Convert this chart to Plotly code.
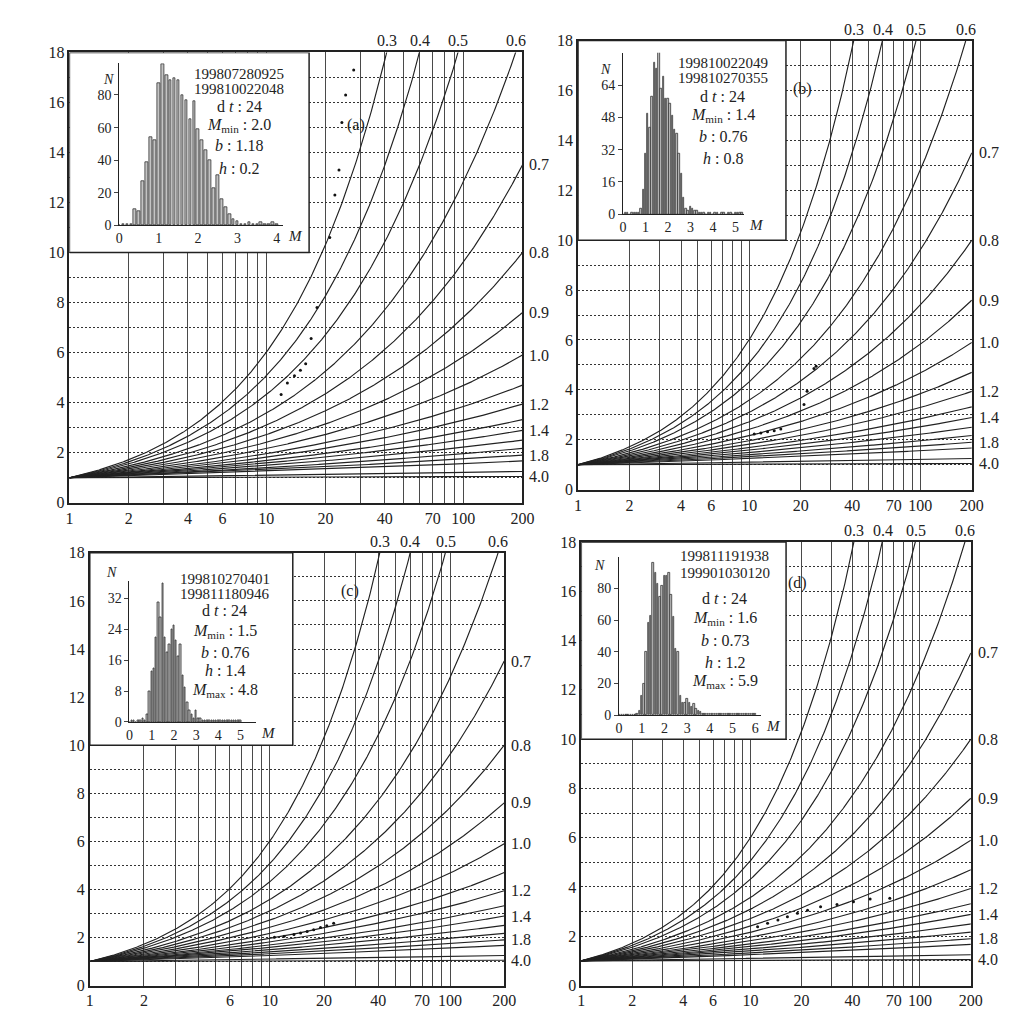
import numpy as np
import plotly.graph_objects as go

W, H = 1029, 1017

# ---------------- data ----------------
curve_labels = [0.3, 0.4, 0.5, 0.6, 0.7, 0.8, 0.9, 1.0, 1.1, 1.2, 1.3, 1.4, 1.5, 1.6, 1.8, 2.0, 3.0, 4.0]
curve_end_y = [62.0, 42.0, 29.0, 18.8, 13.5, 10.0, 7.6, 5.9, 4.7, 3.94, 3.32, 2.89, 2.5, 2.17, 1.9, 1.67, 1.25, 1.05]
top_labels = ["0.3", "0.4", "0.5", "0.6"]
right_labels = ["0.7", "0.8", "0.9", "1.0", "1.2", "1.4", "1.8", "4.0"]

x_grid = [1, 2, 3, 4, 5, 6, 7, 8, 9, 10, 20, 30, 40, 50, 60, 70, 80, 90, 100, 200]
x_ticks_std = [1, 2, 4, 6, 10, 20, 40, 70, 100, 200]
x_ticks_c = [1, 2, 6, 10, 20, 40, 70, 100, 200]
y_ticks = [0, 2, 4, 6, 8, 10, 12, 14, 16, 18]
y_grid = list(range(19))

hist_a = [0, 1, 1, 1, 10, 8.5, 27, 39, 54, 52, 87, 99, 92, 89, 90, 89, 80, 77, 65, 76, 59, 52, 46, 40, 23,
          31, 16, 11, 7, 4, 2.5, 1, 1, 2, 1, 1, 2, 1, 1, 2, 1]
hist_b = [0, 1, 1, 0, 1, 1, 1, 1, 3, 12, 30, 50, 43, 58, 75, 72, 83, 62, 68, 57, 57, 55, 49, 42, 40, 30, 20,
          8, 3, 2, 4, 3, 2, 2, 1, 1, 1, 0, 1, 1, 0, 1, 1, 0, 1, 1, 0, 1, 1, 0, 1, 1, 1, 1]
hist_c = [0, 0.5, 0.5, 0, 0.5, 0.5, 1, 0.5, 2, 8, 13, 14, 22, 31, 27, 36, 22, 18, 20, 24, 25, 21, 17, 20, 12,
          9, 5, 3, 2, 1, 3, 1, 1, 0.5, 0.5, 0.5, 0.5, 0.5, 0.5, 0.5, 0.5, 0.5, 0.5, 0.5, 0.5, 0.5, 0.5, 0.5,
          0.5, 0.5, 0.5]
hist_d = [0, 0, 0, 0, 0, 0, 0, 0, 1, 3, 12, 20, 40, 58, 63, 96, 90, 83, 75, 82, 88, 88, 90, 76, 62, 42, 40,
          12, 8, 8, 10, 8, 5, 7, 4, 3, 2, 1, 1, 1, 1, 1, 1, 1, 1, 1, 1, 1, 1, 1, 1, 1, 1, 1, 1, 1, 1, 1, 1, 1, 1]

dots_a_x = [11.9, 12.8, 13.9, 14.9, 15.85, 16.9, 18.1, 21.0, 22.3, 23.4, 24.2, 25.3, 27.8]
dots_a_y = [4.33, 4.79, 5.08, 5.29, 5.55, 6.56, 7.8, 10.6, 12.3, 13.3, 15.2, 16.3, 17.3]
dots_b_x = [10.7, 11.7, 12.8, 14.0, 15.3, 20.9, 21.8, 23.9, 24.6]
dots_b_y = [2.23, 2.27, 2.32, 2.36, 2.43, 3.41, 3.94, 4.86, 4.95]
dots_c_x = [10.6, 12.0, 13.6, 14.8, 16.1, 17.5, 19.1, 20.7, 22.6]
dots_c_y = [2.01, 2.05, 2.12, 2.19, 2.25, 2.32, 2.41, 2.49, 2.59]
dots_d_x = [11.0, 12.6, 14.5, 16.5, 18.9, 21.7, 25.9, 32.4, 40.5, 50.8, 66.4]
dots_d_y = [2.39, 2.53, 2.66, 2.79, 2.93, 3.06, 3.2, 3.29, 3.4, 3.51, 3.54]

texts_a = ["199807280925", "199810022048", "d <i>t</i> : 24", "<i>M</i><sub>min</sub> : 2.0",
           "<i>b</i> : 1.18", "<i>h</i> : 0.2"]
texts_b = ["199810022049", "199810270355", "d <i>t</i> : 24", "<i>M</i><sub>min</sub> : 1.4",
           "<i>b</i> : 0.76", "<i>h</i> : 0.8"]
texts_c = ["199810270401", "199811180946", "d <i>t</i> : 24", "<i>M</i><sub>min</sub> : 1.5",
           "<i>b</i> : 0.76", "<i>h</i> : 1.4", "<i>M</i><sub>max</sub> : 4.8"]
texts_d = ["199811191938", "199901030120", "d <i>t</i> : 24", "<i>M</i><sub>min</sub> : 1.6",
           "<i>b</i> : 0.73", "<i>h</i> : 1.2", "<i>M</i><sub>max</sub> : 5.9"]

# ---------------- layout geometry (pixels) ----------------
def px(x):
    return x / W

def py(y):
    return 1 - y / H

panels = [
    dict(tag="(a)", main=(58.3, 518.5, 495, 37), inset=(109, 275, 213, 48), irange=(4.15, 99.5),
         yt=[0, 20, 40, 60, 80], xt=[0, 1, 2, 3, 4], hist=hist_a, dx=dots_a_x, dy=dots_a_y,
         texts=texts_a, tx=231, ty=[59, 74, 92, 111, 132, 155], boxx=16.5, tagpos=(338, 100),
         xticks=x_ticks_std, npos=(90, 55)),
    dict(tag="(b)", main=(575, 975, 481.7, 25), inset=(620.7, 744, 201.7, 37.3), irange=(5.4, 80),
         yt=[0, 16, 32, 48, 64], xt=[0, 1, 2, 3, 4, 5], hist=hist_b, dx=dots_b_x, dy=dots_b_y,
         texts=texts_b, tx=722, ty=[48, 63, 82, 101, 123, 145], boxx=16.4, tagpos=(815, 63),
         xticks=x_ticks_std, npos=(603, 45)),
    dict(tag="(c)", main=(79, 500, 986, 546), inset=(119.3, 248, 718, 575), irange=(5.7, 36.4),
         yt=[0, 8, 16, 24, 32], xt=[0, 1, 2, 3, 4, 5], hist=hist_c, dx=dots_c_x, dy=dots_c_y,
         texts=texts_c, tx=216, ty=[573, 588, 605, 626, 647, 666, 686], boxx=13.4, tagpos=(332, 585),
         xticks=x_ticks_c, npos=(93, 566)),
    dict(tag="(d)", main=(578.3, 974, 986, 535), inset=(616.7, 760.7, 711, 550), irange=(6.25, 100),
         yt=[0, 20, 40, 60, 80], xt=[0, 1, 2, 3, 4, 5, 6], hist=hist_d, dx=dots_d_x, dy=dots_d_y,
         texts=texts_d, tx=724, ty=[549, 566, 592, 613, 635, 657, 677], boxx=16.2, tagpos=(810, 577),
         xticks=x_ticks_std, npos=(597, 559)),
]

FONT = "Liberation Serif, Times New Roman, serif"
GRID_DASH = "2px,2px"
fig = go.Figure()
layout = dict(width=W, height=H, margin=dict(l=0, r=0, t=0, b=0), paper_bgcolor="white",
              plot_bgcolor="white", showlegend=False, font=dict(family=FONT, size=16, color="#222"))
annotations = []

xs = np.logspace(0, np.log10(200), 400)
lx200 = np.log(200.0)

for i, p in enumerate(panels):
    n = i + 1
    mx = "x" if n == 1 else f"x{n}"
    my = "y" if n == 1 else f"y{n}"
    ix, iy = f"x{n + 4}", f"y{n + 4}"
    x0, x1, yb, yt_ = p["main"]
    sfx = "" if n == 1 else str(n)
    layout[f"xaxis{sfx}"] = dict(
        type="log", range=[0, np.log10(200)], domain=[px(x0), px(x1)], anchor=my,
        tickmode="array", tickvals=p["xticks"], ticktext=[str(v) for v in p["xticks"]],
        showgrid=True, gridcolor="#4a4a4a", gridwidth=1,
        minor=dict(tickmode="array", tickvals=[v for v in x_grid if v not in p["xticks"]],
                   showgrid=True, gridcolor="#4a4a4a", gridwidth=1, ticks=""),
        showline=True, mirror=True, linecolor="#222", linewidth=1.5, ticks="",
        tickfont=dict(size=16), zeroline=False)
    layout[f"yaxis{sfx}"] = dict(
        range=[0, 18], domain=[py(yb), py(yt_)], anchor=mx,
        tickmode="array", tickvals=y_ticks, ticktext=[str(v) for v in y_ticks],
        showgrid=True, gridcolor="#333", gridwidth=1.2, griddash=GRID_DASH,
        minor=dict(tickmode="array", tickvals=[v for v in y_grid if v not in y_ticks],
                   showgrid=True, gridcolor="#333", gridwidth=1.2, griddash=GRID_DASH, ticks=""),
        showline=True, mirror=True, linecolor="#222", linewidth=1.5, ticks="",
        tickfont=dict(size=16), zeroline=False)

    # inset white box (covers gridlines, drawn as a filled trace in the main axes)
    bx = p["boxx"]
    fig.add_trace(go.Scatter(x=[1, bx, bx, 1, 1], y=[10, 10, 18, 18, 10], mode="lines", fill="toself",
                             fillcolor="white", line=dict(color="#222", width=1.5), xaxis=mx, yaxis=my,
                             hoverinfo="skip"))

    # guide curves
    for h, ye in zip(curve_labels, curve_end_y):
        pe = np.log(ye) / lx200
        fig.add_trace(go.Scatter(x=xs, y=xs ** pe, mode="lines", xaxis=mx, yaxis=my,
                                 line=dict(color="#222", width=1.15), hoverinfo="skip"))
        lab = f"{h:.1f}"
        if lab in top_labels:
            xt = 18 ** (1 / pe)
            annotations.append(dict(x=np.log10(xt), y=18, xref=mx, yref=my, text=lab, showarrow=False,
                                    yanchor="bottom", xanchor="center", yshift=1,
                                    font=dict(size=16)))
        elif lab in right_labels:
            annotations.append(dict(x=np.log10(200), y=ye, xref=mx, yref=my, text=lab, showarrow=False,
                                    xanchor="left", yanchor="middle", xshift=5,
                                    font=dict(size=16)))
    # data points
    fig.add_trace(go.Scatter(x=p["dx"], y=p["dy"], mode="markers", xaxis=mx, yaxis=my,
                             marker=dict(color="#111", size=3), hoverinfo="skip"))
    # inset histogram
    ix0, ix1, iyb, iyt = p["inset"]
    xr, yr = p["irange"]
    bins = np.round(np.arange(len(p["hist"])) * 0.1, 1)
    fig.add_trace(go.Bar(x=bins, y=p["hist"], xaxis=ix, yaxis=iy, width=0.065,
                         marker=dict(color="#c4c4c4", line=dict(color="#333", width=0.8)),
                         hoverinfo="skip"))
    layout[f"xaxis{n + 4}"] = dict(range=[0, xr], domain=[px(ix0), px(ix1)], anchor=iy,
                                   tickmode="array", tickvals=p["xt"], showgrid=False, showline=True,
                                   linecolor="#222", linewidth=1, ticks="", tickfont=dict(size=14),
                                   zeroline=False)
    layout[f"yaxis{n + 4}"] = dict(range=[0, yr], domain=[py(iyb), py(iyt)], anchor=ix,
                                   tickmode="array", tickvals=p["yt"], showgrid=False, showline=True,
                                   linecolor="#222", linewidth=1, ticks="outside", ticklen=4,
                                   tickfont=dict(size=14), zeroline=False)
    annotations.append(dict(x=px(ix1), y=py(iyb), xref="paper", yref="paper", text="<i>M</i>",
                            showarrow=False, xanchor="left", yanchor="top", xshift=3, yshift=-1,
                            font=dict(size=15)))
    annotations.append(dict(x=px(p["npos"][0]), y=py(p["npos"][1]), xref="paper", yref="paper",
                            text="<i>N</i>", showarrow=False, font=dict(size=14)))
    for j, (t, yy) in enumerate(zip(p["texts"], p["ty"])):
        annotations.append(dict(x=px(p["tx"]), y=py(yy), xref="paper", yref="paper", text=t,
                                showarrow=False, xanchor="center", yanchor="middle",
                                font=dict(size=15 if j < 2 else 16)))
    annotations.append(dict(x=px(p["tagpos"][0]), y=py(p["tagpos"][1]), xref="paper", yref="paper",
                            text=p["tag"], showarrow=False, font=dict(size=16)))

layout["annotations"] = annotations
layout["bargap"] = 0
fig.update_layout(**layout)
fig.write_html("out.html")
